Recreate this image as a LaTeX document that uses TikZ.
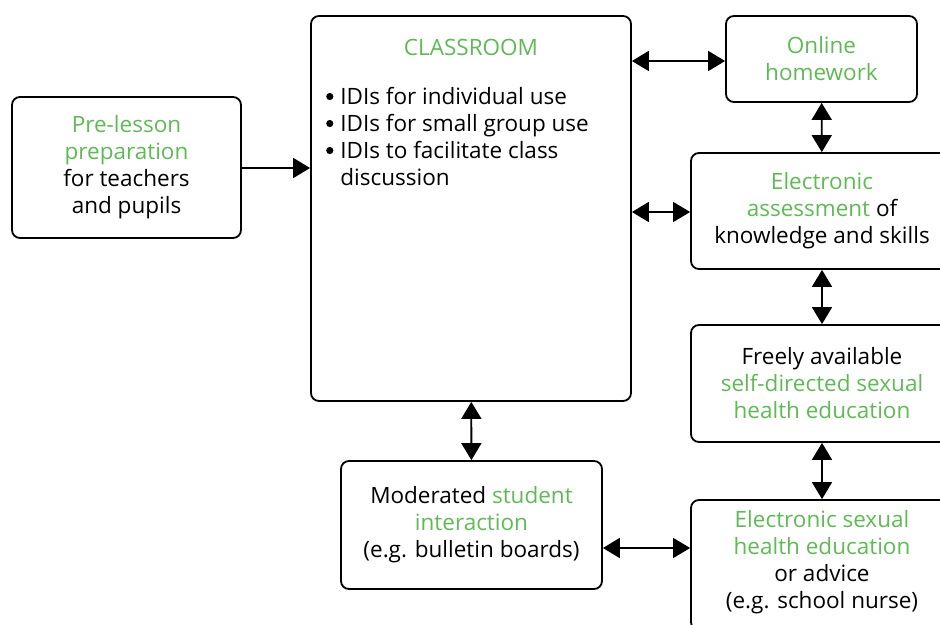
\documentclass[tikz,border=0pt]{standalone}
\usepackage{fontspec}
\setmainfont{Open Sans}
\usetikzlibrary{arrows.meta}
\definecolor{leafgreen}{RGB}{95,186,85}
\newcommand{\hl}[1]{\textcolor{leafgreen}{#1}}
\newcommand{\dotitem}{\raisebox{4pt}{\tikz\fill (0,0) circle (3.6pt);}}

\begin{document}
\begin{tikzpicture}[x=1pt, y=-1pt,
    >={Triangle[length=17pt,width=20pt]},
    line width=1.8pt,
    box/.style={draw, rectangle, rounded corners=8pt, line width=1.8pt},
    txt/.style={align=center, inner sep=0pt, font=\fontsize{22.5}{27}\selectfont}]
    \useasboundingbox (0,0) rectangle (940,624);
    \clip (0,0) rectangle (940,624);
    % Boxes
	    \node (prelesson) [box, minimum width=229pt, minimum height=141pt] at (126.5,167.5) {};
	    \node (classroom) [box, minimum width=320pt, minimum height=385pt] at (471,208.5) {};
	    \node (online) [box, minimum width=191pt, minimum height=86pt] at (821.5,59) {};
	    \node (assess) [box, minimum width=262pt, minimum height=116pt] at (822,211) {};
	    \node (freely) [box, minimum width=262pt, minimum height=117pt] at (822,383.5) {};
	    \node (nurse) [box, minimum width=262pt, minimum height=130pt] at (822,565) {};
	    \node (forum) [box, minimum width=261pt, minimum height=128pt] at (471.5,525) {};
	
	    % Texts
	    \node (prelesson text) [txt] at (prelesson) {\hl{Pre-lesson}\\\hl{preparation}\\for teachers\\and pupils};
	    \node (classroom title) [txt] at (471,47) {\hl{CLASSROOM}};
	    \node (idis) [txt, anchor=north west, align=left] at (326,85) {%
	      \begin{tabular}{@{}l@{\hspace{7pt}}l@{}}
	      \dotitem & IDIs for individual use\\
	      \dotitem & IDIs for small group use\\
	      \dotitem & IDIs to facilitate class\\
	               & discussion
	      \end{tabular}};
	    \node (online text) [txt] at (online) {\hl{Online}\\\hl{homework}};
	    \node (assess text) [txt] at (assess) {\hl{Electronic}\\\hl{assessment} of\\knowledge and skills};
	    \node (freely text) [txt] at (freely) {Freely available\\\hl{self-directed sexual}\\\hl{health education}};
	    \node (nurse text) [txt] at (822,562.5) {\hl{Electronic sexual}\\\hl{health education}\\or advice\\(e.g. school nurse)};
	    \node (forum text) [txt] at (forum) {Moderated \hl{student}\\\hl{interaction}\\(e.g. bulletin boards)};
	
	    % Arrows
	    \draw[->] (prelesson.east |- 0,168) -- (classroom.west |- 0,168);
	    \draw[<->] (classroom.east |- 0,61) -- (online.west |- 0,61);
	    \draw[<->] (classroom.east |- 0,212) -- (assess.west |- 0,212);
	    \draw[<->] (online) -- (assess);
	    \draw[<->] (assess) -- (freely);
	    \draw[<->] (freely) -- (nurse);
	    \draw[<->] (classroom) -- (forum);
	    \draw[<->] (forum.east |- 0,548) -- (nurse.west |- 0,548);
	\end{tikzpicture}
\end{document}
